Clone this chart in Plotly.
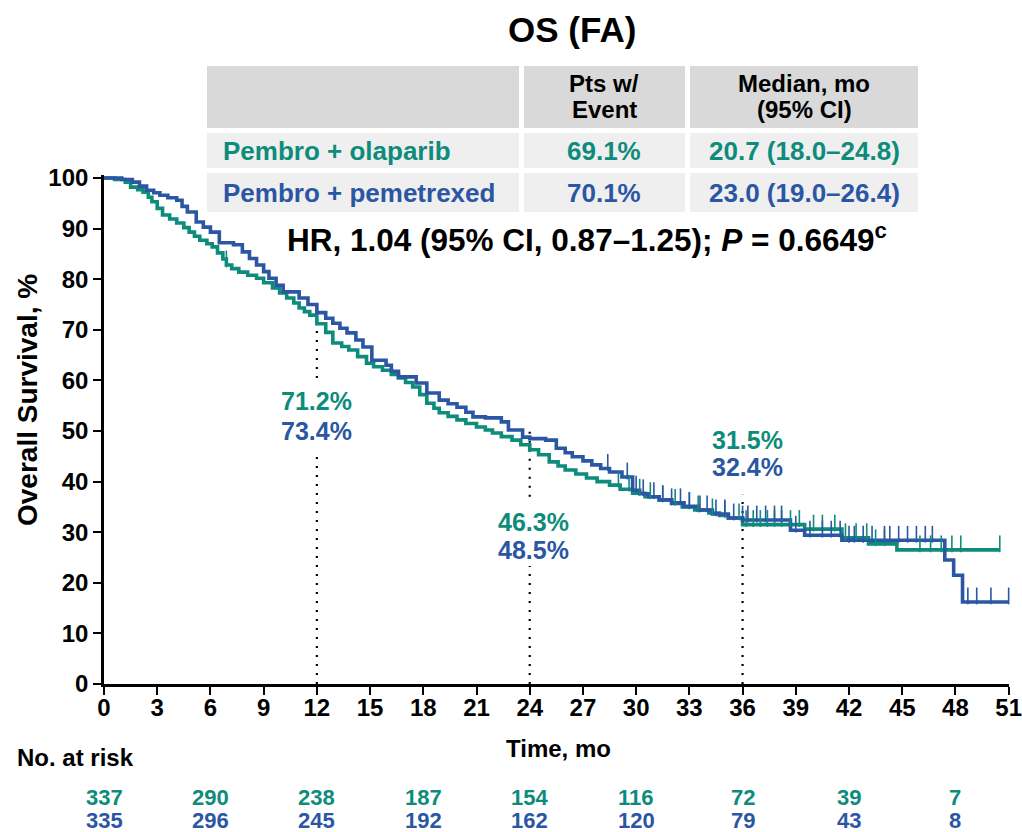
import numpy as np
import plotly.graph_objects as go

# ---------------- data ----------------
ola_t = [0, 0.6, 1.2, 1.5, 1.9, 2.2, 2.5, 2.7, 3.0, 3.3, 3.7, 4.1, 4.5, 4.8, 5.1, 5.4, 5.8, 6.1, 6.4, 6.7, 6.9,
         7.2, 7.6, 8.1, 8.6, 9.0, 9.5, 9.9, 10.3, 10.7, 11.0, 11.3, 11.6, 12.0, 12.5, 12.9, 13.4, 13.8, 14.3,
         14.8, 15.2, 15.7, 16.2, 16.6, 17.0, 17.4, 17.8, 18.2, 18.6, 18.9, 19.4, 19.9, 20.4, 21.0, 21.5, 21.9,
         22.4, 23.0, 23.5, 24.0, 24.5, 25.1, 25.6, 26.0, 26.6, 27.2, 27.8, 28.5, 29.1, 29.8, 30.5, 31.3, 32.0,
         32.6, 33.3, 34.1, 34.7, 35.2, 36.0, 39.5, 41.6, 43.1, 44.7, 50.5]
ola_s = [100, 99.7, 99.2, 98.2, 97.7, 97.2, 96.2, 95.3, 94.0, 92.7, 91.9, 91.1, 90.2, 89.3, 88.5, 87.7, 87.0, 86.4,
         85.2, 84.0, 82.8, 82.1, 81.4, 80.8, 80.2, 79.3, 78.3, 77.3, 76.3, 75.3, 74.3, 73.6, 72.9, 71.2, 69.5,
         67.4, 66.7, 66.0, 64.7, 63.4, 62.7, 62.0, 61.2, 60.5, 59.6, 58.7, 57.2, 55.5, 54.5, 53.6, 52.9, 52.2,
         51.5, 50.8, 50.2, 49.6, 48.9, 48.2, 47.3, 46.3, 45.3, 43.9, 43.1, 42.3, 41.5, 40.7, 40.0, 39.3, 38.5,
         37.7, 37.0, 36.4, 35.7, 35.0, 34.4, 33.8, 33.3, 32.8, 31.5, 30.6, 28.9, 27.7, 26.5, 26.5]

pem_t = [0, 1.0, 1.6, 2.0, 2.4, 2.8, 3.15, 3.6, 4.1, 4.4, 4.7, 5.2, 5.6, 6.0, 6.5, 7.3, 7.8, 8.2, 8.6, 9.0, 9.3,
         9.7, 10.1, 11.0, 11.5, 12.0, 12.5, 12.9, 13.3, 13.7, 14.2, 14.6, 15.1, 15.9, 16.2, 16.6, 17.6, 18.2,
         18.9, 19.4, 19.9, 20.4, 20.8, 21.5, 22.4, 22.8, 23.6, 24.0, 24.9, 25.5, 26.0, 26.4, 27.0, 27.5, 28.0,
         28.5, 29.2, 29.8, 30.2, 30.7, 31.3, 32.0, 32.7, 33.5, 34.3, 35.2, 36.0, 38.7, 39.5, 41.6, 47.4, 47.9,
         48.4, 51.0]
pem_s = [100, 99.7, 99.2, 98.4, 97.6, 97.1, 96.6, 96.1, 95.6, 94.4, 93.3, 91.3, 90.3, 89.3, 87.2, 86.8, 85.4,
         84.1, 82.8, 81.5, 80.2, 78.8, 77.5, 76.3, 75.0, 73.4, 72.3, 71.3, 70.3, 69.4, 68.0, 66.6, 64.0, 63.0,
         61.8, 60.7, 59.5, 57.5, 56.1, 55.4, 54.7, 53.7, 52.8, 52.6, 51.8, 50.2, 48.8, 48.5, 48.2, 46.6, 45.7,
         44.9, 44.1, 43.3, 42.6, 41.9, 40.9, 38.3, 37.6, 37.0, 36.4, 35.8, 35.1, 34.4, 33.6, 32.8, 32.4, 30.4,
         29.4, 28.4, 24.5, 21.5, 16.2, 16.2]

ola_cens = [6.9, 29.0, 29.6, 30.2, 30.8, 31.5, 32.2, 33.0, 33.5, 34.3, 35.0, 35.8, 36.2, 36.6, 37.0, 37.4,
            37.8, 38.2, 38.7, 39.2, 40.0, 40.5, 41.2, 41.8, 42.4, 43.0, 43.5, 44.0, 46.0, 46.6, 47.2, 47.8,
            48.3, 50.5]
pem_cens = [1.2, 28.4, 29.5, 30.0, 30.4, 31.0, 31.5, 32.0, 32.5, 33.0, 33.6, 34.0, 34.5, 35.0, 35.5, 36.0,
            36.3, 36.8, 37.3, 37.8, 38.2, 39.0, 39.8, 40.5, 41.0, 41.5, 42.0, 42.3, 42.8, 43.3, 44.0, 44.3,
            44.8, 45.3, 45.8, 46.3, 46.7, 48.7, 49.2, 50.0, 51.0]

landmark_t = [12, 24, 36]
landmark_ola = ["71.2%", "46.3%", "31.5%"]
landmark_pem = ["73.4%", "48.5%", "32.4%"]

risk_times = [0, 6, 12, 18, 24, 30, 36, 42, 48]
risk_ola = [337, 290, 238, 187, 154, 116, 72, 39, 7]
risk_pem = [335, 296, 245, 192, 162, 120, 79, 43, 8]

arms = ["Pembro + olaparib", "Pembro + pemetrexed"]
pct_event = ["69.1%", "70.1%"]
median_ci = ["20.7 (18.0–24.8)", "23.0 (19.0–26.4)"]

x_ticks = list(range(0, 52, 3))
y_ticks = list(range(0, 101, 10))

# ---------------- style ----------------
GREEN = "#0d8b7b"
BLUE = "#2a56a3"
FONT = "Liberation Sans, Arial, Helvetica, sans-serif"
W, H = 1022, 832
L, R, T, B = 104, 13, 175, 148
PW, PH = W - L - R, H - T - B


def px(x):
    return (x - L) / PW


def py(y):
    return (H - B - y) / PH


def step_at(ts, ss, t):
    i = int(np.searchsorted(np.array(ts), t, side="right")) - 1
    return ss[max(i, 0)]


def note(x, y, text, size, color="black", xref="paper", yref="paper", xanchor="center", **kw):
    return dict(x=x, y=y, xref=xref, yref=yref, text=text, showarrow=False,
                xanchor=xanchor, yanchor="middle",
                font=dict(family=FONT, size=size, color=color, weight="bold"), **kw)


fig = go.Figure()

# dotted landmark lines (segments broken around labels)
dot_segments = {12: [(0, 45.3), (60.5, 70.6)], 24: [(0, 23.3), (37.0, 50.6)], 36: [(0, 37.4)]}
for t in landmark_t:
    for y0, y1 in dot_segments[t]:
        fig.add_trace(go.Scatter(x=[t, t], y=[y0, y1], mode="lines",
                                 line=dict(color="black", width=2.2, dash="2px,7px"),
                                 hoverinfo="skip", showlegend=False))

for ts, ss, col, name in [(ola_t, ola_s, GREEN, arms[0]), (pem_t, pem_s, BLUE, arms[1])]:
    fig.add_trace(go.Scatter(x=ts, y=ss, mode="lines", line=dict(color=col, width=3.6, shape="hv"),
                             name=name, showlegend=False))

for cens, ts, ss, col in [(ola_cens, ola_t, ola_s, GREEN), (pem_cens, pem_t, pem_s, BLUE)]:
    cy = [step_at(ts, ss, c) + 1.2 for c in cens]
    fig.add_trace(go.Scatter(x=cens, y=cy, mode="markers", cliponaxis=False,
                             marker=dict(symbol="line-ns", size=12, line=dict(color=col, width=1.6)),
                             hoverinfo="skip", showlegend=False))

ann = []
# landmark labels
lab_pos = {12: (55.9, 50.0), 24: (32.0, 26.5), 36: (48.2, 42.8)}
lab_x = {12: 12, 24: 24.2, 36: 36.3}
for t, a, b in zip(landmark_t, landmark_ola, landmark_pem):
    ya, yb = lab_pos[t]
    ann.append(note(lab_x[t], ya, a, 25, GREEN, xref="x", yref="y"))
    ann.append(note(lab_x[t], yb, b, 25, BLUE, xref="x", yref="y"))

# title
ann.append(note(px(572), py(30), "OS (FA)", 35))

# table
shapes = []
cols = [(207, 519), (524, 685), (690, 918)]
rows = [(66, 128, "#d9d9d9"), (133, 168, "#efefef"), (173, 212, "#efefef")]
for (y0, y1, fc) in rows:
    for (x0, x1) in cols:
        shapes.append(dict(type="rect", xref="paper", yref="paper", x0=px(x0), x1=px(x1),
                           y0=py(y1), y1=py(y0), fillcolor=fc, line=dict(width=0), layer="above"))

for txt, cx, cy in [("Pts w/", 604, 84), ("Event", 604, 109), ("Median, mo", 804, 84), ("(95% CI)", 804, 109)]:
    ann.append(note(px(cx), py(cy), txt, 24))

for i, (col, ry) in enumerate([(GREEN, 151), (BLUE, 193)]):
    ann.append(note(px(221), py(ry), arms[i], 26, col, xanchor="left"))
    ann.append(note(px(604), py(ry), pct_event[i], 26, col))
    ann.append(note(px(804), py(ry), median_ci[i], 26, col))

ann.append(note(px(587), py(238), "HR, 1.04 (95% CI, 0.87–1.25); <i>P</i> = 0.6649<sup>c</sup>", 31.5))

# axis titles
ann.append(note(px(27), py(400), "Overall Survival, %", 28, textangle=-90))
ann.append(note(px(558), py(748), "Time, mo", 24))
ann.append(note(px(15), py(757), "No. at risk", 24, xanchor="left"))

# risk table
for t, a, b in zip(risk_times, risk_ola, risk_pem):
    ann.append(note(t, py(797), str(a), 22, GREEN, xref="x"))
    ann.append(note(t, py(820), str(b), 22, BLUE, xref="x"))

axis_common = dict(showgrid=False, zeroline=False, showline=True, linecolor="black", linewidth=2.6,
                   ticks="outside", ticklen=8, tickwidth=2.4, tickcolor="black", automargin=False,
                   tickfont=dict(family=FONT, size=24, color="black", weight="bold"))

fig.update_layout(
    width=W, height=H, autosize=False,
    margin=dict(l=L, r=R, t=T, b=B, pad=0),
    paper_bgcolor="white", plot_bgcolor="white",
    xaxis=dict(range=[0, 51.02], tickvals=x_ticks, ticktext=[str(v) for v in x_ticks],
               ticklabelstandoff=-8, ticklabeloverflow="allow", **axis_common),
    yaxis=dict(range=[0, 100.6], tickvals=y_ticks, ticktext=[str(v) for v in y_ticks], **axis_common),
    annotations=ann, shapes=shapes, showlegend=False,
)

fig.write_html("out.html")
